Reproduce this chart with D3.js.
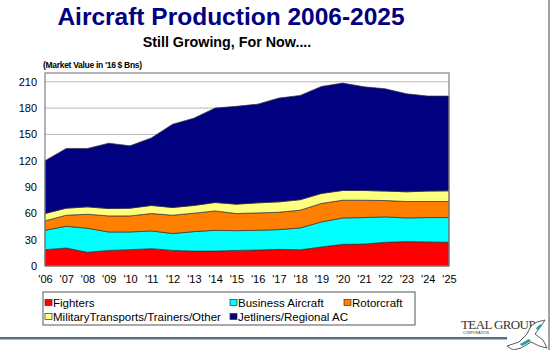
<!DOCTYPE html>
<html>
<head>
<meta charset="utf-8">
<script src="https://cdn.jsdelivr.net/npm/d3@7"></script>
<style>
  html, body { margin: 0; padding: 0; background: #fff; }
  svg { display: block; font-family: "Liberation Sans", Arial, sans-serif; }
</style>
</head>
<body>
<svg id="chart" width="550" height="350"></svg>
<script>
const years = ["'06","'07","'08","'09","'10","'11","'12","'13","'14","'15","'16","'17","'18","'19","'20","'21","'22","'23","'24","'25"];
const fighters = [18.6,20.5,15.6,17.8,18.6,19.8,17.8,17.0,17.0,17.8,18.2,19.0,18.4,21.7,24.7,25.0,27.0,27.8,27.5,27.0];
const businessAircraft = [22.1,24.8,27.4,21.0,20.2,20.2,19.2,22.2,23.7,22.5,22.5,22.5,25.0,28.5,30.1,30.2,29.0,27.0,27.7,28.2];
const rotorcraft = [10.7,12.6,16.0,18.3,18.3,19.8,20.9,21.0,22.1,19.5,19.8,19.8,20.2,21.1,20.2,19.8,18.6,18.7,18.3,18.3];
const militaryTransports = [8.4,8.0,8.4,8.4,8.8,9.2,8.8,8.8,9.6,10.7,11.5,11.8,12.0,11.4,11.1,11.1,10.8,11.1,11.9,12.2];
const jetliners = [60.2,68.1,66.6,74.5,71.1,77.0,94.9,99.5,107.6,111.5,112.5,118.3,118.8,122.0,122.4,118.2,116.6,111.7,108.3,108.0];
const seriesNames = ["Fighters","Business Aircraft","Rotorcraft","MilitaryTransports/Trainers/Other","Jetliners/Regional AC"];
const seriesColors = ["#ff0000","#00ffff","#ff8000","#ffff80","#000080"];
const yTicks = [0,30,60,90,120,150,180,210];

const svg = d3.select("#chart");
const keys = ["f","b","r","m","j"];
const table = years.map((y,i) => ({year:y, f:fighters[i], b:businessAircraft[i], r:rotorcraft[i], m:militaryTransports[i], j:jetliners[i]}));
const stacked = d3.stack().keys(keys)(table);

const L = 45, R = 449, T = 73, B = 266;
const x = d3.scalePoint().domain(years).range([L, R]);
const y = d3.scaleLinear().domain([0, 220]).range([B, T]);

// Title
svg.append("text").attr("x", 231).attr("y", 25).attr("text-anchor","middle")
  .attr("font-size", 24.5).attr("font-weight","bold").attr("fill","#000080")
  .text("Aircraft Production 2006-2025");
svg.append("text").attr("x", 227).attr("y", 47).attr("text-anchor","middle")
  .attr("font-size", 14.3).attr("font-weight","bold").attr("fill","#000")
  .text("Still Growing, For Now....");
svg.append("text").attr("x", 43).attr("y", 68)
  .attr("font-size", 8.5).attr("font-weight","bold").attr("fill","#000")
  .attr("letter-spacing", -0.3)
  .text("(Market Value in '16 $ Bns)");

// plot bg
svg.append("rect").attr("x",L).attr("y",T).attr("width",R-L).attr("height",B-T).attr("fill","#fff");

// grid
svg.append("g").selectAll("line").data(yTicks.filter(d=>d>0)).join("line")
  .attr("x1",L).attr("x2",R).attr("y1",d=>y(d)).attr("y2",d=>y(d))
  .attr("stroke","#b8b8b8").attr("stroke-width",1);

// areas
const area = d3.area().x((d,i)=>x(years[i])).y0(d=>y(d[0])).y1(d=>y(d[1]));
svg.append("g").selectAll("path").data(stacked).join("path")
  .attr("d", area).attr("fill",(d,i)=>seriesColors[i])
  .attr("stroke","#333").attr("stroke-width",0.7).attr("stroke-linejoin","round");

// frame
svg.append("rect").attr("x",L).attr("y",T).attr("width",R-L).attr("height",B-T)
  .attr("fill","none").attr("stroke","#808080").attr("stroke-width",1.2);

// y axis
const yAxis = d3.axisLeft(y).tickValues(yTicks).tickSize(0).tickPadding(8);
const gy = svg.append("g").attr("transform",`translate(${L},0)`).call(yAxis);
gy.select(".domain").remove();
gy.selectAll("text").attr("font-size",11).attr("fill","#000").attr("font-family","Liberation Sans, Arial, sans-serif");

// x axis
const xAxis = d3.axisBottom(x).tickSize(0).tickPadding(9);
const gx = svg.append("g").attr("transform",`translate(0,${B})`).call(xAxis);
gx.select(".domain").remove();
gx.selectAll("text").attr("font-size",11).attr("fill","#000").attr("font-family","Liberation Sans, Arial, sans-serif");

// legend
svg.append("rect").attr("x",43).attr("y",292).attr("width",372).attr("height",33)
  .attr("fill","#fff").attr("stroke","#555").attr("stroke-width",1);
const legPos = [[45,303],[230,303],[344,303],[45,317],[230,317]];
const lg = svg.append("g").selectAll("g").data(seriesNames).join("g")
  .attr("transform",(d,i)=>`translate(${legPos[i][0]},${legPos[i][1]})`);
lg.append("rect").attr("x",0).attr("y",-3.5).attr("width",7).attr("height",6)
  .attr("fill",(d,i)=>seriesColors[i]).attr("stroke","#333").attr("stroke-width",0.7);
lg.append("text").attr("x",8).attr("y",4).attr("font-size",11.5).attr("fill","#000").text(d=>d);

// bottom rule & right edge
svg.append("line").attr("x1",0).attr("x2",507).attr("y1",338).attr("y2",338)
  .attr("stroke","#4f6f8f").attr("stroke-width",2);
svg.append("line").attr("x1",0).attr("x2",507).attr("y1",339.5).attr("y2",339.5)
  .attr("stroke","#a8bccc").attr("stroke-width",1);
svg.append("line").attr("x1",549).attr("x2",549).attr("y1",0).attr("y2",350)
  .attr("stroke","#444").attr("stroke-width",1);

// logo
svg.append("text").attr("x",498).attr("y",329).attr("text-anchor","middle")
  .attr("font-family","Liberation Serif, Times New Roman, serif").attr("font-size",13)
  .attr("fill","#333").attr("letter-spacing",-0.6).text("TEAL GROUP");
svg.append("text").attr("x",463).attr("y",334).attr("font-size",3.5).attr("fill","#333").text("CORPORATION");
const plane = svg.append("g").attr("transform","translate(507,320)");
plane.append("path").attr("d","M0,26 L12,22 L20,14 L24,6 L30,2 L38,0 L34,6 L28,14 L36,20 L40,28 L32,26 L24,22 L14,28 L6,30 Z")
  .attr("fill","#fff").attr("stroke","#333").attr("stroke-width",0.8);
plane.append("path").attr("d","M13,24 L22,19 L24,21 L15,26 Z").attr("fill","#20a0a0");
plane.append("path").attr("d","M29,8 L34,4 L35,6 L30,10 Z").attr("fill","#20a0a0");
</script>
</body>
</html>
